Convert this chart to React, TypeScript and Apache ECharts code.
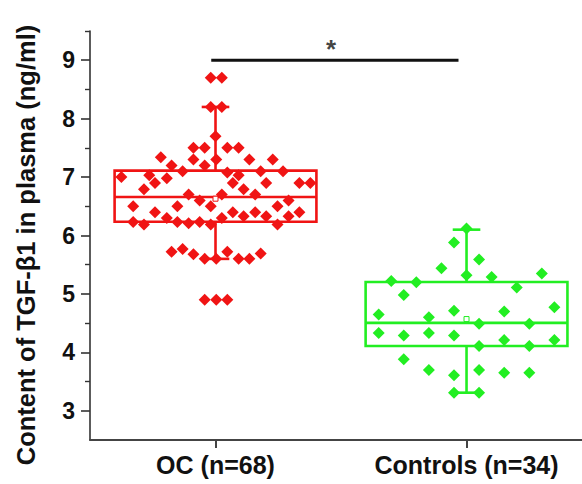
import React, { useEffect, useRef } from "react";
import * as echarts from "echarts";

// ---------- data ----------
const categories = ["OC (n=68)", "Controls (n=34)"];
const categoryPositions = [1, 2];
const yTickValues = [3, 4, 5, 6, 7, 8, 9];
const yMinorTickValues = [3.5, 4.5, 5.5, 6.5, 7.5, 8.5, 9.5];

// box statistics: [lower whisker, Q1, median, Q3, upper whisker, mean]
const ocBox = [5.6, 6.235, 6.66, 7.11, 8.2, 6.63];
const ctrlBox = [3.31, 4.11, 4.505, 5.205, 6.1, 4.57];

// OC (n=68) individual values and their horizontal jitter
const ocValues = [
  8.7, 8.7, 8.2, 8.2, 7.7,
  7.5, 7.5, 7.5, 7.5, 7.34,
  7.3, 7.3, 7.3, 7.3, 7.2, 7.2,
  7.1, 7.08, 7.1, 7.1,
  7.0, 7.03, 6.98, 7.03,
  6.9, 6.9, 6.9, 6.9, 6.9,
  6.79, 6.79, 6.7, 6.7, 6.7, 6.6, 6.6,
  6.5, 6.5, 6.5, 6.5,
  6.4, 6.4, 6.4, 6.4,
  6.3, 6.3, 6.33, 6.33, 6.33,
  6.23, 6.19, 6.23, 6.21, 6.23, 6.19, 6.19,
  5.72, 5.77, 5.68, 5.6, 5.6, 5.72, 5.6, 5.6, 5.69,
  4.9, 4.9, 4.9,
];
const ocJitter = [
  -0.019, 0.025, -0.019, 0.025, 0,
  -0.088, -0.043, 0.047, 0.092, -0.218,
  -0.088, 0.003, 0.135, 0.228, -0.175, -0.043,
  -0.131, 0.047, 0.18, 0.269,
  -0.375, -0.264, -0.194, 0.092,
  -0.241, 0.069, 0.202, 0.334, 0.378,
  -0.285, 0.112, -0.107, 0.025, 0.158, -0.063, 0.291,
  -0.328, -0.152, -0.019, 0.247,
  -0.241, 0.069, 0.158, 0.334,
  -0.194, 0.025, 0.112, 0.202, 0.291,
  -0.328, -0.285, -0.152, -0.107, -0.063, -0.019, 0.247,
  -0.175, -0.131, -0.088, -0.043, 0.003, 0.047, 0.092, 0.135, 0.18,
  -0.043, 0.003, 0.047,
];

// Controls (n=34) individual values and their horizontal jitter
const ctrlValues = [
  6.12, 5.88, 5.59, 5.44, 5.32, 5.29, 5.35, 5.22, 5.2, 5.11, 4.98,
  4.65, 4.6, 4.71, 4.7, 4.77,
  4.49, 4.49, 4.33, 4.29, 4.33, 4.29, 4.21, 4.21, 4.11, 4.11,
  3.88, 3.7, 3.61, 3.7, 3.65, 3.65, 3.31, 3.31,
];
const ctrlJitter = [
  0, -0.05, 0.05, -0.1, 0, 0.1, 0.3, -0.3, -0.2, 0.2, -0.25,
  -0.35, -0.15, -0.05, 0.15, 0.35,
  0.05, 0.25, -0.35, -0.25, -0.15, -0.05, 0.15, 0.35, 0.05, 0.25,
  -0.25, -0.15, -0.05, 0.05, 0.15, 0.25, -0.05, 0.05,
];

const significanceFrom = 0.983;
const significanceTo = 1.968;
const significanceY = 9;
const significanceLabel = "*";
const yAxisTitle = "Content of TGF-β1 in plasma (ng/ml)";

// ---------- style ----------
const RED = "#f01414";
const GREEN = "#22ee22";
const FONT = 'Arial, "Liberation Sans", Helvetica, sans-serif';
const BOX_HALF = 0.402;
const CAP_HALF = 0.055;

function boxRenderer(color: string) {
  return (params: any, api: any) => {
    const x = api.value(0);
    const low = api.value(1);
    const q1 = api.value(2);
    const med = api.value(3);
    const q3 = api.value(4);
    const high = api.value(5);
    const mean = api.value(6);
    const tl = api.coord([x - BOX_HALF, q3]);
    const br = api.coord([x + BOX_HALF, q1]);
    const medL = api.coord([x - BOX_HALF, med]);
    const medR = api.coord([x + BOX_HALF, med]);
    const top = api.coord([x, high]);
    const bot = api.coord([x, low]);
    const capTL = api.coord([x - CAP_HALF, high]);
    const capTR = api.coord([x + CAP_HALF, high]);
    const capBL = api.coord([x - CAP_HALF, low]);
    const capBR = api.coord([x + CAP_HALF, low]);
    const m = api.coord([x, mean]);
    const ls = { stroke: color, lineWidth: 2.6, fill: "none" };
    return {
      type: "group",
      children: [
        { type: "line", shape: { x1: top[0], y1: top[1], x2: top[0], y2: tl[1] }, style: ls },
        { type: "line", shape: { x1: bot[0], y1: br[1], x2: bot[0], y2: bot[1] }, style: ls },
        { type: "line", shape: { x1: capTL[0], y1: capTL[1], x2: capTR[0], y2: capTR[1] }, style: ls },
        { type: "line", shape: { x1: capBL[0], y1: capBL[1], x2: capBR[0], y2: capBR[1] }, style: ls },
        {
          type: "rect",
          shape: { x: tl[0], y: tl[1], width: br[0] - tl[0], height: br[1] - tl[1] },
          style: { stroke: color, lineWidth: 2.6, fill: "transparent" },
        },
        { type: "line", shape: { x1: medL[0], y1: medL[1], x2: medR[0], y2: medR[1] }, style: ls },
        {
          type: "rect",
          shape: { x: m[0] - 2.5, y: m[1] - 2.5, width: 5, height: 5 },
          style: { stroke: color, lineWidth: 1, fill: "#fff" },
        },
      ],
    };
  };
}

export default function App() {
  const ref = useRef<HTMLDivElement>(null);

  useEffect(() => {
    if (!ref.current) return;
    const chart = echarts.init(ref.current, undefined, { renderer: "svg" });

    const ocPoints = ocValues.map((v, i) => [categoryPositions[0] + ocJitter[i], v]);
    const ctrlPoints = ctrlValues.map((v, i) => [categoryPositions[1] + ctrlJitter[i], v]);

    chart.setOption({
      animation: false,
      backgroundColor: "#ffffff",
      grid: { left: 90, right: 0, top: 31, bottom: 44, containLabel: false },
      xAxis: {
        type: "value",
        min: 0.5,
        max: 2.46,
        splitLine: { show: false },
        axisLine: { show: true, lineStyle: { color: "#444", width: 2 } },
        axisTick: { show: true, customValues: categoryPositions, length: 8, lineStyle: { color: "#444", width: 2 } },
        axisLabel: {
          customValues: categoryPositions,
          formatter: (v: number) => categories[categoryPositions.indexOf(Math.round(v))] ?? "",
          color: "#111",
          fontSize: 25,
          fontWeight: "bold",
          fontFamily: FONT,
          margin: 12,
        },
      },
      yAxis: [
        {
          type: "value",
          min: 2.5,
          max: 9.5,
          position: "left",
          splitLine: { show: false },
          axisLine: { show: true, lineStyle: { color: "#333", width: 1.6 } },
          axisTick: { show: true, customValues: yTickValues, length: 9, lineStyle: { color: "#333", width: 1.6 } },
          axisLabel: {
            customValues: yTickValues,
            color: "#111",
            fontSize: 23,
            fontWeight: "bold",
            fontFamily: FONT,
            margin: 15,
          },
        },
        {
          type: "value",
          min: 2.5,
          max: 9.5,
          position: "left",
          offset: 0,
          splitLine: { show: false },
          axisLine: { show: false },
          axisTick: { show: true, customValues: yMinorTickValues, length: 5, lineStyle: { color: "#333", width: 1.4 } },
          axisLabel: { show: false },
        },
      ],
      graphic: [
        {
          type: "text",
          x: 26,
          y: 245,
          rotation: Math.PI / 2,
          style: {
            text: yAxisTitle,
            fill: "#111",
            font: `bold 25.5px ${FONT}`,
            textAlign: "center",
            textVerticalAlign: "middle",
          },
        },
      ],
      series: [
        {
          type: "custom",
          name: "OC box",
          renderItem: boxRenderer(RED),
          data: [[categoryPositions[0], ...ocBox]],
          z: 2,
          silent: true,
        },
        {
          type: "custom",
          name: "Controls box",
          renderItem: boxRenderer(GREEN),
          data: [[categoryPositions[1], ...ctrlBox]],
          z: 2,
          silent: true,
        },
        {
          type: "scatter",
          name: categories[0],
          data: ocPoints,
          symbol: "diamond",
          symbolSize: 12,
          itemStyle: { color: RED, opacity: 1 },
          z: 3,
        },
        {
          type: "scatter",
          name: categories[1],
          data: ctrlPoints,
          symbol: "diamond",
          symbolSize: 12,
          itemStyle: { color: GREEN, opacity: 1 },
          z: 3,
        },
        {
          type: "line",
          name: "significance",
          data: [
            [significanceFrom, significanceY],
            [significanceTo, significanceY],
          ],
          symbol: "none",
          lineStyle: { color: "#111", width: 3 },
          silent: true,
          z: 4,
        },
        {
          type: "scatter",
          name: "significance label",
          data: [[(significanceFrom + significanceTo) / 2 - 0.015, significanceY]],
          symbolSize: 0,
          silent: true,
          label: {
            show: true,
            formatter: significanceLabel,
            position: "inside",
            offset: [0, -11],
            color: "#111",
            fontSize: 26,
            fontWeight: "bold",
            fontFamily: FONT,
          },
          z: 4,
        },
      ],
    });

    return () => chart.dispose();
  }, []);

  return (
    <div
      ref={ref}
      style={{ position: "absolute", left: 0, top: 0, width: 582, height: 484, background: "#fff" }}
    />
  );
}
